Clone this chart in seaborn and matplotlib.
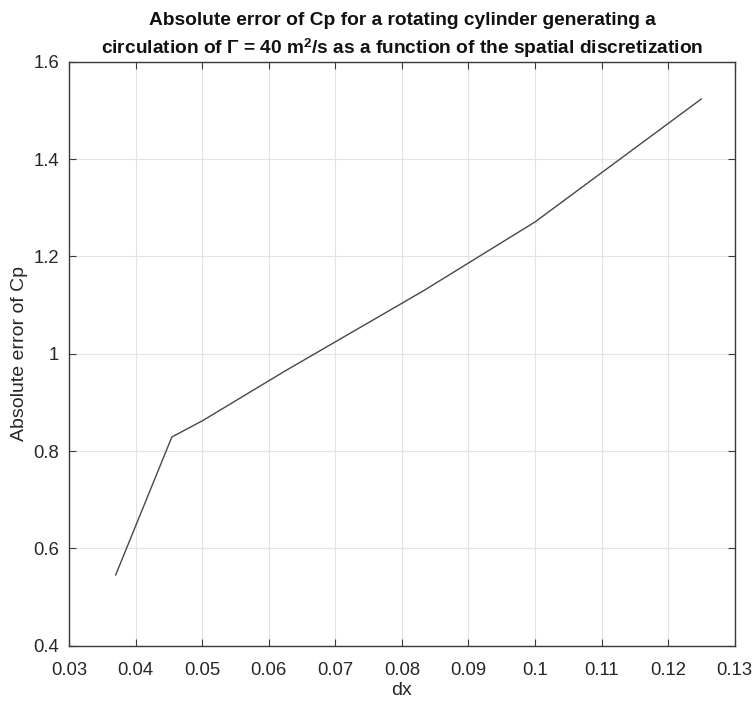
import matplotlib
matplotlib.use("Agg")
import matplotlib.pyplot as plt
import seaborn as sns
import pandas as pd

dx = [0.037, 0.04545, 0.05, 0.0625, 0.0833, 0.1, 0.125]
abs_err = [0.545, 0.829, 0.862, 0.965, 1.130, 1.271, 1.524]
xticks = [0.03, 0.04, 0.05, 0.06, 0.07, 0.08, 0.09, 0.1, 0.11, 0.12, 0.13]
xticklabels = ["0.03", "0.04", "0.05", "0.06", "0.07", "0.08", "0.09", "0.1", "0.11", "0.12", "0.13"]
yticks = [0.4, 0.6, 0.8, 1.0, 1.2, 1.4, 1.6]
yticklabels = ["0.4", "0.6", "0.8", "1", "1.2", "1.4", "1.6"]

sns.set_theme(style="white")
plt.rcParams['font.family'] = ['Liberation Sans', 'DejaVu Sans']
plt.rcParams['mathtext.fontset'] = 'custom'
plt.rcParams['mathtext.rm'] = 'Liberation Sans:bold'
plt.rcParams['mathtext.bf'] = 'Liberation Sans:bold'
plt.rcParams['mathtext.it'] = 'Liberation Serif'

df = pd.DataFrame({"dx": dx, "err": abs_err})

fig = plt.figure(figsize=(7.54, 7.03), dpi=100)
ax = fig.add_axes([0.0915, 0.0815, 0.883, 0.8305])
sns.lineplot(data=df, x="dx", y="err", ax=ax, color="#474747", linewidth=1.0, sort=False)

ax.set_xlim(0.03, 0.13)
ax.set_ylim(0.4, 1.6)
ax.set_xticks(xticks)
ax.set_xticklabels(xticklabels)
ax.set_yticks(yticks)
ax.set_yticklabels(yticklabels)
ax.grid(True, color="#e3e3e3", linewidth=0.8)
ax.set_axisbelow(True)
for s in ax.spines.values():
    s.set_color("#3a3a3a")
    s.set_linewidth(1.0)
ax.tick_params(direction="in", length=5, width=0.8, colors="#3a3a3a",
               labelsize=13.3, labelcolor="#262626", top=True, right=True,
               bottom=True, left=True, labeltop=False, labelright=False)
ax.tick_params(axis="x", pad=12)
ax.tick_params(axis="y", pad=7)
ax.set_xlabel("dx", fontsize=14, color="#262626", labelpad=2)
ax.set_ylabel("Absolute error of Cp", fontsize=14, color="#262626", labelpad=4)
ax.set_title("Absolute error of Cp for a rotating cylinder generating a\n"
             r"circulation of $\mathit{\Gamma}$ = 40 m$^{\mathbf{2}}$/s as a function of the spatial discretization",
             fontsize=13.8, fontweight="bold", color="#111111", pad=6, linespacing=1.4)

fig.savefig("out.png", dpi=100, facecolor="white")
